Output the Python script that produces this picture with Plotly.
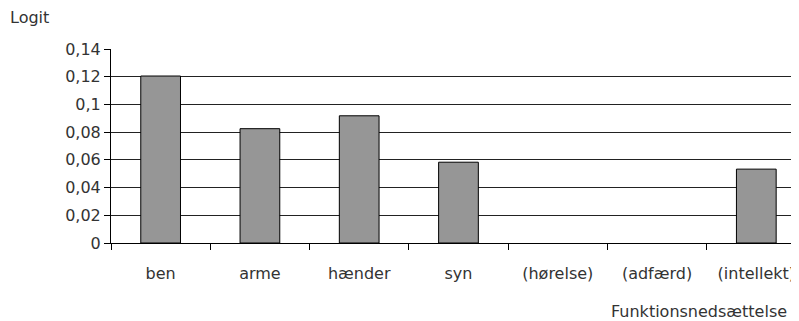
import plotly.graph_objects as go

categories = ["ben", "arme", "hænder", "syn", "(hørelse)", "(adfærd)", "(intellekt)"]
values = [0.1205, 0.0825, 0.0918, 0.0583, 0, 0, 0.0533]
y_ticks = [0, 0.02, 0.04, 0.06, 0.08, 0.1, 0.12, 0.14]
y_tick_labels = ["0", "0,02", "0,04", "0,06", "0,08", "0,1", "0,12", "0,14"]

FONT = "DejaVu Sans"
TXT = "#333333"

# zero-valued categories show no bar in the reference
plot_values = [v if v else None for v in values]

fig = go.Figure()
fig.add_trace(go.Bar(
    x=categories, y=plot_values,
    marker=dict(color="#969696", line=dict(color="#000000", width=1)),
    showlegend=False,
))

fig.update_layout(
    width=791, height=313,
    margin=dict(l=103, r=0, t=41, b=78),
    paper_bgcolor="white", plot_bgcolor="white",
    bargap=0.6,
    font=dict(family=FONT, size=16, color=TXT),
    xaxis=dict(
        type="category", range=[-0.5, 6.43],
        tickson="boundaries", ticks="outside", ticklen=6, tickcolor="#000",
        showline=True, linecolor="#000", linewidth=1,
        showgrid=False, tickfont=dict(size=16, color=TXT),
        ticklabelstandoff=16,
    ),
    yaxis=dict(
        range=[0, 0.14], tickvals=y_ticks, ticktext=y_tick_labels,
        ticks="outside", ticklen=6, tickcolor="#000",
        showline=True, linecolor="#000", linewidth=1,
        showgrid=True, gridcolor="#222222", gridwidth=1,
        zeroline=False, tickfont=dict(size=16, color=TXT),
    ),
    annotations=[
        dict(text="Logit", xref="paper", yref="paper", x=-0.1497, y=1.163,
             xanchor="left", yanchor="middle", showarrow=False,
             font=dict(size=16, color=TXT)),
        dict(text="Funktionsnedsættelse", xref="paper", yref="paper", x=0.985, y=-0.353,
             xanchor="right", yanchor="middle", showarrow=False,
             font=dict(size=16, color=TXT)),
    ],
)

fig.write_html("out.html")
